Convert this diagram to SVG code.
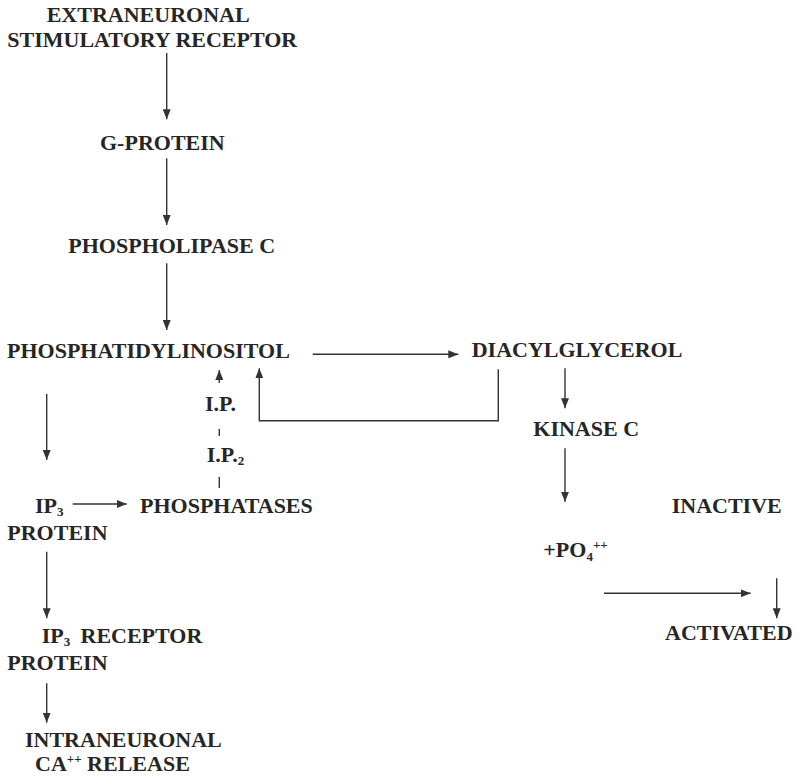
<svg xmlns="http://www.w3.org/2000/svg" width="802" height="777" viewBox="0 0 802 777">
<defs>
<style>
text{font-family:"Liberation Serif","Times New Roman",serif;font-weight:bold;font-size:22px;fill:#262626}
.s{font-size:13px}
.c{stroke:#333;stroke-width:1.4;fill:none}
.a{marker-end:url(#ah)}
</style>
<marker id="ah" markerUnits="userSpaceOnUse" markerWidth="10" markerHeight="8" refX="10" refY="4" orient="auto">
<path d="M0,0 L10,4 L0,8 z" fill="#333"/>
</marker>
</defs>
<rect width="802" height="777" fill="#fff"/>
<g id="connectors">
<line class="c a" x1="166.7" y1="53" x2="166.7" y2="119.3"/>
<line class="c a" x1="166.7" y1="158.3" x2="166.7" y2="225"/>
<line class="c a" x1="166.7" y1="263.3" x2="166.7" y2="330"/>
<line class="c a" x1="312.7" y1="354.3" x2="458.3" y2="354.3"/>
<line class="c a" x1="219.3" y1="383" x2="219.3" y2="370"/>
<path class="c a" d="M498.3,369.3 V420.7 H259.3 V368.3"/>
<line class="c" x1="219.3" y1="429" x2="219.3" y2="436"/>
<line class="c" x1="219.3" y1="477" x2="219.3" y2="488"/>
<line class="c a" x1="46.7" y1="394" x2="46.7" y2="460"/>
<line class="c a" x1="72.7" y1="504" x2="126.7" y2="504"/>
<line class="c a" x1="46.7" y1="551.7" x2="46.7" y2="618.3"/>
<line class="c a" x1="46.7" y1="683.3" x2="46.7" y2="722.7"/>
<line class="c a" x1="565" y1="368.3" x2="565" y2="408.3"/>
<line class="c a" x1="565" y1="448.3" x2="565" y2="501.7"/>
<line class="c a" x1="604" y1="593.3" x2="750.7" y2="593.3"/>
<line class="c a" x1="776.7" y1="578.3" x2="776.7" y2="618.3"/>
</g>
<g id="extraneuronal"><text x="46.7" y="21.7">EXTRANEURONAL<tspan x="7.3" y="46.7">STIMULATORY RECEPTOR</tspan></text></g>
<g id="gprotein"><text x="100" y="150">G-PROTEIN</text></g>
<g id="phospholipase"><text x="68.3" y="252.7">PHOSPHOLIPASE C</text></g>
<g id="phosphatidylinositol"><text x="7" y="357.7">PHOSPHATIDYLINOSITOL</text></g>
<g id="diacylglycerol"><text x="471.7" y="356.7">DIACYLGLYCEROL</text></g>
<g id="ip"><text x="205" y="410.7">I.P.</text></g>
<g id="ip2"><text x="206.7" y="461.7">I.P.<tspan class="s" dy="3">2</tspan></text></g>
<g id="kinase"><text x="533.3" y="436">KINASE C</text></g>
<g id="ip3protein"><text x="35" y="513">IP<tspan class="s" dy="3">3</tspan></text><text x="7.3" y="539.5">PROTEIN</text></g>
<g id="phosphatases"><text x="140" y="513">PHOSPHATASES</text></g>
<g id="inactive"><text x="671.7" y="513.3">INACTIVE</text></g>
<g id="po4"><text x="543.3" y="556.7">+PO<tspan class="s" dy="4">4</tspan><tspan class="s" dy="-12">++</tspan></text></g>
<g id="activated"><text x="665" y="640">ACTIVATED</text></g>
<g id="ip3receptor"><text x="41.7" y="643.3">IP<tspan class="s" dy="3">3</tspan><tspan x="80.5" y="643.3">RECEPTOR</tspan></text><text x="7.3" y="669.5">PROTEIN</text></g>
<g id="release"><text x="25" y="746.7">INTRANEURONAL<tspan x="35" y="770.7">CA</tspan><tspan class="s" dy="-8">++</tspan><tspan dy="8"> RELEASE</tspan></text></g>
</svg>
